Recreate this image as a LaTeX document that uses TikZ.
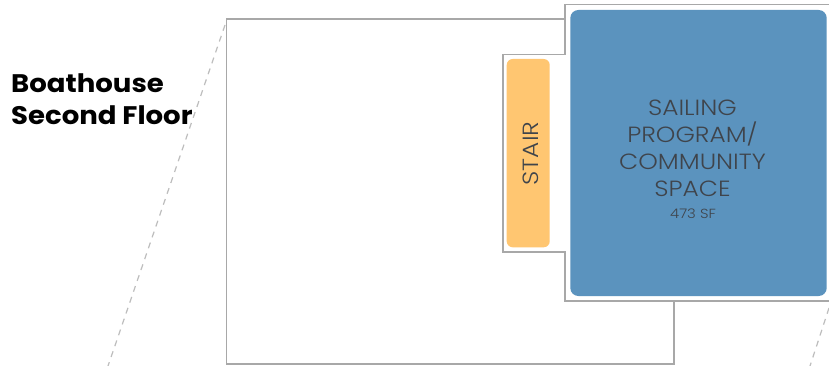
\documentclass[tikz,border=0pt]{standalone}
\usepackage{fontspec}
\setmainfont{Poppins}
\newfontfamily\lightfont[FakeStretch=1.13]{Poppins Light}
\newfontfamily\titlefont[FakeStretch=1.085]{Poppins}
\definecolor{wallgray}{HTML}{A8A8A8}
\definecolor{dashgray}{HTML}{BDBDBD}
\definecolor{sailblue}{HTML}{5B93BE}
\definecolor{stairorange}{HTML}{FFC671}
\definecolor{labelgray}{HTML}{3F444B}
\tikzset{
  wall/.style={draw=wallgray,line width=1.6pt,line join=miter},
  guide/.style={draw=dashgray,line width=1.2pt,dash pattern=on 6pt off 5.5pt},
  room/.style={rounded corners=#1,draw=none},
  roomlabel/.style={text=labelgray,align=center,inner sep=0pt,font=\lightfont\fontsize{22}{26}\selectfont},
  arealabel/.style={text=labelgray,inner sep=0pt,font=\lightfont\fontsize{13.2}{15}\selectfont},
  titlelabel/.style={text=black,align=left,inner sep=0pt,font=\titlefont\bfseries\fontsize{25.4}{30}\selectfont}
}
\begin{document}
\begin{tikzpicture}[x=1pt,y=-1pt]
\useasboundingbox (0,0) rectangle (829,366);
\fill[white] (0,0) rectangle (829,366);
\coordinate (gla) at (225,25);
\coordinate (glb) at (108,366);
\coordinate (gra) at (829,308);
\coordinate (grb) at (810,366);
\draw[guide] (gla) -- (glb);
\draw[guide] (gra) -- (grb);
\draw[wall] (829,4.7) -- (564.7,4.7) -- (564.7,54.7) -- (502.7,54.7) -- (502.7,251.7) -- (564.7,251.7) -- (564.7,301) -- (829,301);
\draw[wall] (564.7,19.3) -- (226.5,19.3) -- (226.5,364) -- (673.7,364) -- (673.7,301);
\fill[sailblue,room=8pt] (570.3,10) rectangle (826.7,296);
\fill[stairorange,room=6pt] (506.7,59) rectangle (549.7,247.3);
\node[roomlabel,anchor=base] (sail1) at (692.5,115.5) {SAILING};
\node[roomlabel,anchor=base] (sail2) at (692.5,142.5) {PROGRAM/};
\node[roomlabel,anchor=base] (sail3) at (692.5,169.5) {COMMUNITY};
\node[roomlabel,anchor=base] (sail4) at (692.5,196.5) {SPACE};
\node[arealabel,anchor=base] (area) at (693,218) {473 SF};
\node[roomlabel,rotate=90] (stair) at (530.5,153.5) {STAIR};
\node[titlelabel,anchor=base west] (title1) at (11,92.5) {Boathouse};
\node[titlelabel,anchor=base west] (title2) at (11,124.5) {Second Floor};
\end{tikzpicture}
\end{document}
